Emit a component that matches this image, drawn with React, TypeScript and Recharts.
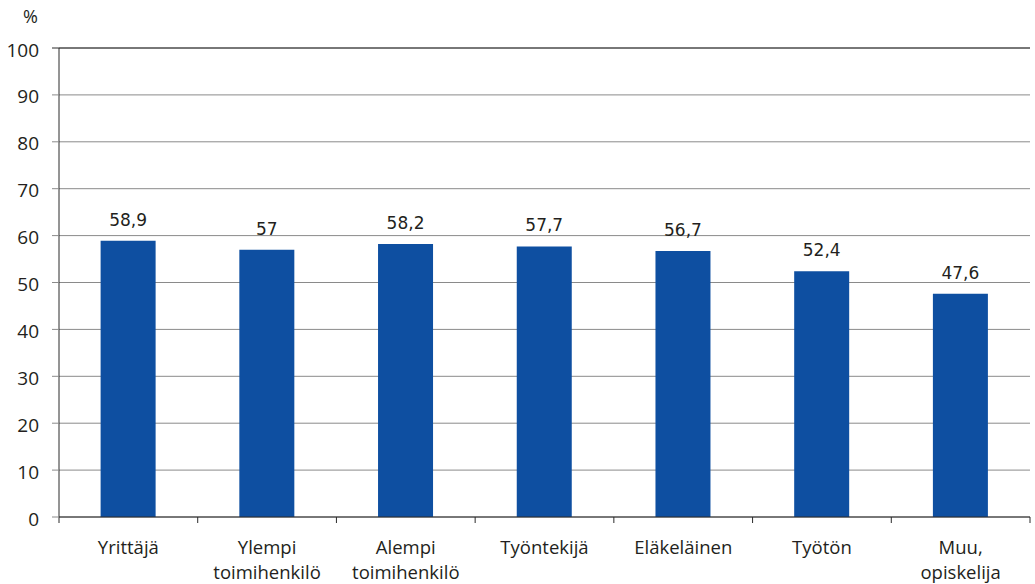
import React from 'react';
import { BarChart, Bar, XAxis, YAxis, CartesianGrid, LabelList, ReferenceLine } from 'recharts';

const categories: string[] = [
  'Yrittäjä',
  'Ylempi\ntoimihenkilö',
  'Alempi\ntoimihenkilö',
  'Työntekijä',
  'Eläkeläinen',
  'Työtön',
  'Muu,\nopiskelija',
];
const values: number[] = [58.9, 57, 58.2, 57.7, 56.7, 52.4, 47.6];
const yTicks: number[] = [0, 10, 20, 30, 40, 50, 60, 70, 80, 90, 100];
const unitLabel = '%';

const data = categories.map((c, i) => ({ name: c, value: values[i] }));

const W = 1035;
const H = 584;
const M = { top: 48, right: 5, left: 0, bottom: 0 };
const Y_W = 59;
const X_H = 67;
const PLOT_W = W - M.left - M.right - Y_W;
const BAND = PLOT_W / categories.length;

const TEXT = '#231f20';
const GRID = '#8a8a8a';
const AXIS = '#2b2b2b';
const BAR = '#0e4fa1';
const FONT = '"Open Sans", sans-serif';

const XTick = (props: any) => {
  const { x, y, payload, index } = props;
  const lines = String(payload.value).split('\n');
  const left = x - BAND / 2;
  const right = x + BAND / 2;
  return (
    <g>
      <line x1={left} x2={left} y1={y} y2={y + 6} stroke={AXIS} strokeWidth={1} />
      {index === categories.length - 1 && (
        <line x1={right} x2={right} y1={y} y2={y + 6} stroke={AXIS} strokeWidth={1} />
      )}
      <text x={x} y={y + 37} textAnchor="middle" fill={TEXT} fontFamily={FONT} fontSize={18.5}>
        {lines.map((l, i) => (
          <tspan key={i} x={x} dy={i === 0 ? 0 : 24.5}>
            {l}
          </tspan>
        ))}
      </text>
    </g>
  );
};

const YTick = (props: any) => {
  const { x, y, payload } = props;
  const isTop = payload.value === 100;
  return (
    <g>
      <line x1={x - 7} x2={x} y1={y} y2={y} stroke={isTop ? AXIS : GRID} strokeWidth={1} />
      <text x={x - 20} y={y + 8.5} textAnchor="end" fill={TEXT} fontFamily={FONT} fontSize={19}>
        {payload.value}
      </text>
    </g>
  );
};

export default function App() {
  return (
    <div style={{ position: 'absolute', left: 0, top: 0, width: W, height: H, background: '#fff' }}>
      <svg style={{ position: 'absolute', left: 0, top: 0, pointerEvents: 'none' }} width={60} height={40}>
        <text x={38} y={22.5} textAnchor="end" fill={TEXT} fontFamily={FONT} fontSize={18}>
          {unitLabel}
        </text>
      </svg>
      <BarChart width={W} height={H} data={data} margin={M} barCategoryGap="30%">
        <CartesianGrid vertical={false} stroke={GRID} strokeWidth={1} />
        <ReferenceLine y={100} stroke={AXIS} strokeWidth={1} ifOverflow="extendDomain" />
        <XAxis
          dataKey="name"
          height={X_H}
          interval={0}
          tickLine={false}
          tickSize={0}
          tickMargin={0}
          axisLine={{ stroke: AXIS, strokeWidth: 1 }}
          tick={<XTick />}
        />
        <YAxis
          width={Y_W}
          domain={[0, 100]}
          ticks={yTicks}
          interval={0}
          tickLine={false}
          tickSize={0}
          tickMargin={0}
          axisLine={{ stroke: AXIS, strokeWidth: 1 }}
          tick={<YTick />}
        />
        <Bar dataKey="value" fill={BAR} isAnimationActive={false}>
          <LabelList
            dataKey="value"
            position="top"
            offset={15}
            fill={TEXT}
            fontFamily='"DejaVu Sans", sans-serif'
            fontSize={17}
            formatter={(v: any) => String(v).replace('.', ',')}
          />
        </Bar>
      </BarChart>
    </div>
  );
}
